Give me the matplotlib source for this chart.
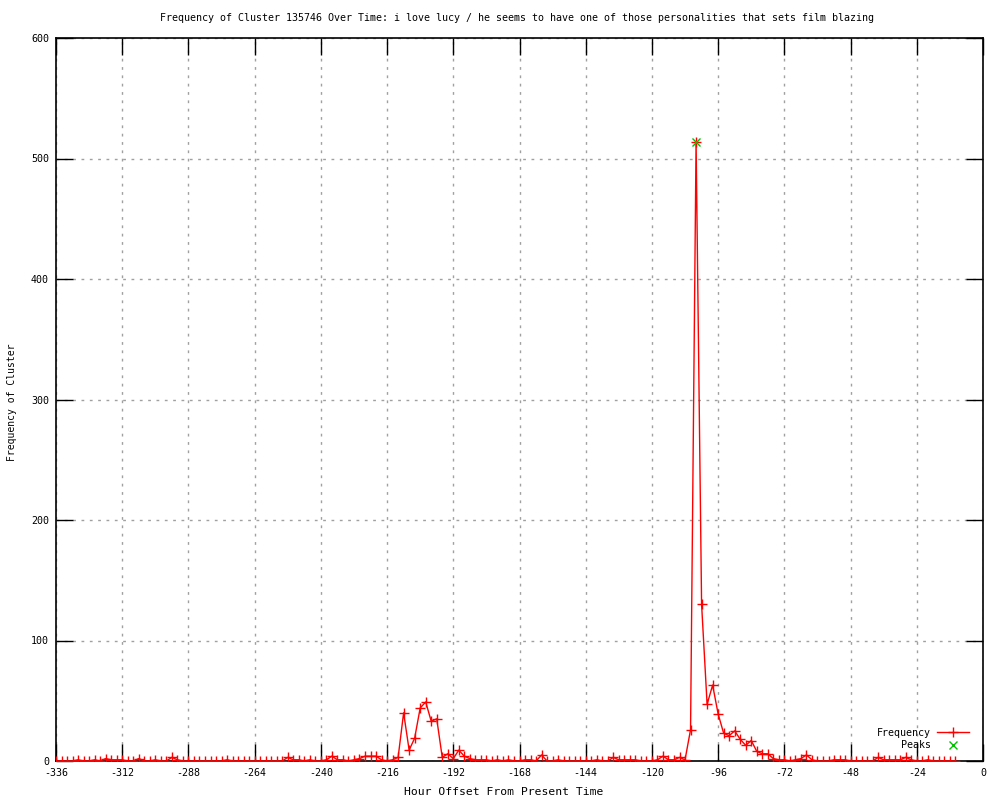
import numpy as np
import matplotlib
matplotlib.use("Agg")
import matplotlib.pyplot as plt
from matplotlib.ticker import MultipleLocator

plt.rcParams['font.family'] = ['DejaVu Sans Mono']
plt.rcParams['axes.unicode_minus'] = False

title = "Frequency of Cluster 135746 Over Time: i love lucy / he seems to have one of those personalities that sets film blazing"
xlabel = "Hour Offset From Present Time"
ylabel = "Frequency of Cluster"

hours = np.arange(-336, -9, 2)
frequency = [
    0, 0, 0, 0, 1, 0, 0, 1, 0, 2,      # -336 .. -318
    1, 1, 1, 0, 0, 2, 0, 0, 1, 0,      # -316 .. -298
    0, 3, 1, 0, 0, 0, 0, 0, 0, 0,      # -296 .. -278
    0, 1, 0, 0, 0, 0, 0, 0, 0, 0,      # -276 .. -258
    0, 0, 3, 1, 1, 0, 1, 0, 0, 1,      # -256 .. -238
    4, 1, 1, 0, 1, 2, 4, 4, 4, 1,      # -236 .. -218
    0, 1, 3, 40, 9, 19, 44, 49, 33, 35,  # -216 .. -198
    3, 6, 2, 9, 4, 2, 1, 1, 1, 0,      # -196 .. -178
    1, 0, 1, 0, 0, 1, 1, 0, 5, 0,      # -176 .. -158
    0, 1, 0, 0, 0, 0, 0, 0, 1, 0,      # -156 .. -138
    0, 3, 1, 1, 1, 1, 0, 0, 0, 1,      # -136 .. -118
    4, 1, 1, 3, 1, 26, 514, 130, 47, 63,  # -116 .. -98
    39, 23, 21, 25, 18, 13, 17, 8, 6, 6,  # -96 .. -78
    2, 1, 1, 0, 1, 2, 5, 1, 0, 0,      # -76 .. -58
    0, 1, 1, 1, 0, 0, 0, 0, 0, 3,      # -56 .. -38
    1, 1, 1, 1, 3, 1, 0, 0, 1, 0,      # -36 .. -18
    0, 0, 0, 0,                        # -16 .. -10
]
peak_hours = [-104]
peak_values = [514]

fig = plt.figure(figsize=(10, 8), dpi=100)
ax = fig.add_axes([0.056, 0.04875, 0.927, 0.90375])

ax.plot(hours, frequency, color='#ff0000', lw=1.0, marker='+', ms=7, mew=1.0,
        label="Frequency", zorder=3)
ax.plot(peak_hours, peak_values, ls='none', color='#00c000', marker='x', ms=6,
        mew=1.0, label="    Peaks", zorder=4)

ax.set_xlim(-336, 0)
ax.set_ylim(0, 600)
ax.xaxis.set_major_locator(MultipleLocator(24))
ax.yaxis.set_major_locator(MultipleLocator(100))
ax.tick_params(direction='in', length=12, width=1, top=True, right=True,
               labelsize=7.2, colors='black', pad=5)
ax.grid(True, color='#a0a0a0', linestyle=(0, (2, 4)), linewidth=1)
for s in ax.spines.values():
    s.set_linewidth(1.2)
    s.set_color('black')

fig.text(0.517, 1 - 18 / 800, title, ha='center', va='center', fontsize=7.2)
fig.text(0.5035, 1 - 792 / 800, xlabel, ha='center', va='center', fontsize=8.2)
fig.text(12 / 1000, 1 - 402 / 800, ylabel, ha='center', va='center',
         rotation=90, fontsize=7.0)

leg = ax.legend(loc='lower right', bbox_to_anchor=(0.992, 0.005), frameon=False,
                markerfirst=False, fontsize=7.2, handlelength=3.2,
                handletextpad=0.6, labelspacing=0.25, borderpad=0.2)

fig.savefig("out.png", dpi=100)
